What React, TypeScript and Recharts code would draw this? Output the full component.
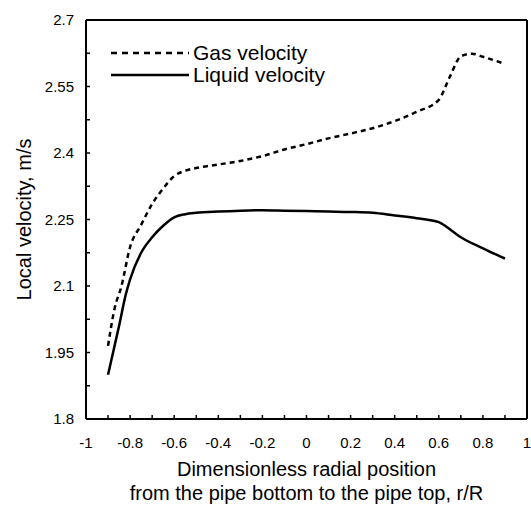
import React from 'react';
import { LineChart, Line, XAxis, YAxis, ReferenceLine, Legend } from 'recharts';

const xGas = [-0.9, -0.87, -0.84, -0.8, -0.75, -0.7, -0.65, -0.6, -0.55, -0.5, -0.4, -0.3, -0.2, -0.1, 0, 0.1, 0.2, 0.3, 0.4, 0.5, 0.6, 0.65, 0.7, 0.75, 0.8, 0.9];
const gasVelocity = [1.965, 2.05, 2.098, 2.188, 2.238, 2.285, 2.32, 2.348, 2.36, 2.366, 2.374, 2.382, 2.393, 2.408, 2.42, 2.433, 2.444, 2.456, 2.472, 2.493, 2.52, 2.572, 2.618, 2.624, 2.617, 2.601];

const xLiquid = [-0.9, -0.85, -0.82, -0.8, -0.75, -0.7, -0.65, -0.6, -0.55, -0.5, -0.4, -0.3, -0.2, -0.1, 0, 0.1, 0.2, 0.3, 0.4, 0.5, 0.6, 0.65, 0.7, 0.8, 0.9];
const liquidVelocity = [1.9, 2.01, 2.08, 2.115, 2.175, 2.21, 2.236, 2.255, 2.262, 2.265, 2.268, 2.27, 2.271, 2.27, 2.269, 2.268, 2.267, 2.265, 2.259, 2.253, 2.244, 2.228, 2.21, 2.185, 2.162];

const xTicks = [-1, -0.9, -0.8, -0.7, -0.6, -0.5, -0.4, -0.3, -0.2, -0.1, 0, 0.1, 0.2, 0.3, 0.4, 0.5, 0.6, 0.7, 0.8, 0.9, 1];
const yTicks = [1.8, 1.875, 1.95, 2.025, 2.1, 2.175, 2.25, 2.325, 2.4, 2.475, 2.55, 2.625, 2.7];

const seriesNames = ['Gas velocity', 'Liquid velocity'];
const xTitle = ['Dimensionless radial position', 'from the pipe bottom to the pipe top, r/R'];
const yTitle = 'Local velocity, m/s';

const gasData = xGas.map((x, i) => ({ x, v: gasVelocity[i] }));
const liquidData = xLiquid.map((x, i) => ({ x, v: liquidVelocity[i] }));

const FONT = '"Liberation Sans", Arial, sans-serif';

const fmt = (v: number) => String(Number(v.toFixed(2)));

const YTick = (props: any) => {
  const { x, y, payload, index } = props;
  const major = index % 2 === 0;
  return (
    <g>
      <line x1={x} x2={x + 4} y1={y} y2={y} stroke="#000" strokeWidth={1.5} />
      {major && (
        <text x={x - 12} y={y} dy={5} textAnchor="end" fontSize={15} fontFamily={FONT} fill="#000">
          {fmt(payload.value)}
        </text>
      )}
    </g>
  );
};

const XTick = (props: any) => {
  const { x, y, payload, index } = props;
  const major = index % 2 === 0;
  return (
    <g>
      <line x1={x} x2={x} y1={y} y2={y - 4} stroke="#000" strokeWidth={1.5} />
      {major && (
        <text x={x} y={y} dy={29} textAnchor="middle" fontSize={15} fontFamily={FONT} fill="#000">
          {fmt(payload.value)}
        </text>
      )}
    </g>
  );
};

const LegendContent = () => (
  <div style={{ fontFamily: FONT, fontSize: 21, color: '#000' }}>
    {seriesNames.map((name, i) => (
      <div key={name} style={{ display: 'flex', alignItems: 'center', height: 22 }}>
        <svg width={82} height={22} style={{ display: 'block' }}>
          <line x1={0} x2={78} y1={11} y2={11} stroke="#000" strokeWidth={2.5} strokeDasharray={i === 0 ? '6 5' : undefined} />
        </svg>
        <span style={{ lineHeight: '22px', whiteSpace: 'nowrap' }}>{name}</span>
      </div>
    ))}
  </div>
);

export default function App() {
  return (
    <div style={{ position: 'absolute', left: 0, top: 0, background: '#fff' }}>
      <LineChart width={531} height={507} margin={{ top: 20, right: 4, bottom: 0, left: 0 }}>
        <XAxis
          type="number"
          dataKey="x"
          domain={[-1, 1]}
          ticks={xTicks}
          interval={0}
          allowDataOverflow
          tick={<XTick />}
          tickLine={false}
          tickSize={0}
          tickMargin={0}
          height={88}
          axisLine={{ stroke: '#000', strokeWidth: 2 }}
          label={(p: any) => {
            const vb = p.viewBox;
            const cx = vb.x + vb.width / 2;
            return (
              <g>
                <text x={cx} y={vb.y + 57} textAnchor="middle" fontSize={20} fontFamily={FONT} fill="#000">{xTitle[0]}</text>
                <text x={cx} y={vb.y + 81} textAnchor="middle" fontSize={20} fontFamily={FONT} fill="#000">{xTitle[1]}</text>
              </g>
            );
          }}
        />
        <YAxis
          type="number"
          dataKey="v"
          domain={[1.8, 2.7]}
          ticks={yTicks}
          interval={0}
          allowDataOverflow
          tick={<YTick />}
          tickLine={false}
          tickSize={0}
          tickMargin={0}
          width={86}
          axisLine={{ stroke: '#000', strokeWidth: 2 }}
          label={(p: any) => {
            const vb = p.viewBox;
            const cy = vb.y + vb.height / 2;
            return (
              <text x={24} y={cy} transform={`rotate(-90 24 ${cy})`} dy={7} textAnchor="middle" fontSize={20} fontFamily={FONT} fill="#000">{yTitle}</text>
            );
          }}
        />
        <ReferenceLine y={2.7} stroke="#000" strokeWidth={2} />
        <ReferenceLine x={1} stroke="#000" strokeWidth={2} />
        <Legend
          layout="vertical"
          align="center"
          verticalAlign="middle"
          content={<LegendContent />}
          wrapperStyle={{ left: 111, top: 42, width: 270, height: 44 }}
        />
        <Line data={gasData} dataKey="v" type="monotone" stroke="#000" strokeWidth={2.5} strokeDasharray="5 4" dot={false} isAnimationActive={false} name={seriesNames[0]} />
        <Line data={liquidData} dataKey="v" type="monotone" stroke="#000" strokeWidth={2.5} dot={false} isAnimationActive={false} name={seriesNames[1]} />
      </LineChart>
    </div>
  );
}
